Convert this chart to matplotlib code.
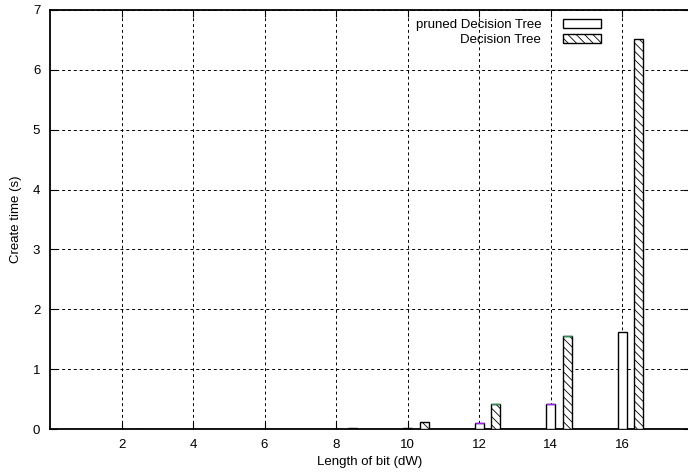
import numpy as np
import matplotlib
matplotlib.use("Agg")
import matplotlib.pyplot as plt

plt.rcParams['font.family'] = ['Liberation Sans', 'DejaVu Sans']
plt.rcParams['hatch.linewidth'] = 0.6

bits = np.array([2, 4, 6, 8, 10, 12, 14, 16])
pruned = [0.0, 0.0, 0.001, 0.005, 0.02, 0.1, 0.41, 1.62]
full = [0.0, 0.0, 0.002, 0.02, 0.11, 0.41, 1.56, 6.51]

fig = plt.figure(figsize=(6.88, 4.72), dpi=100)
ax = fig.add_axes([50 / 688, 43 / 472, 640 / 688, 419 / 472])

w = 0.25
ax.bar(bits, pruned, width=w, color='white', edgecolor='black', linewidth=1.0,
       label='pruned Decision Tree', zorder=3)
ax.bar(bits + 0.47, full, width=w, color='white', edgecolor='black', linewidth=1.0,
       hatch='\\\\\\\\', label='Decision Tree', zorder=3)
# thin coloured caps as in the original
ax.hlines(pruned[5:7], bits[5:7] - w / 2, bits[5:7] + w / 2, color='#a020f0', lw=1, zorder=4)
ax.hlines(full[5:7], bits[5:7] + 0.47 - w / 2, bits[5:7] + 0.47 + w / 2, color='#2e8b57', lw=1, zorder=4)

ax.set_xlim(0, 17.9)
ax.set_ylim(0, 7)
ax.set_xticks(bits)
ax.set_yticks(range(0, 8))
ax.grid(True, color='black', linestyle=(0, (3, 3)), linewidth=0.7, zorder=0)
ax.tick_params(direction='in', top=True, right=True, length=5, labelsize=9.5)
ax.tick_params(axis='x', pad=7)
ax.tick_params(axis='y', pad=7)
for s in ax.spines.values():
    s.set_linewidth(1.3)

ax.set_xlabel('Length of bit (dW)', fontsize=9.5, labelpad=4)
ax.set_ylabel('Create time (s)', fontsize=9.5, labelpad=8)

leg = ax.legend(loc='upper right', bbox_to_anchor=(0.876, 1.0), markerfirst=False,
                frameon=False, fontsize=9.5, handlelength=2.9, handleheight=0.7,
                handletextpad=1.65, labelspacing=0.2, borderaxespad=0.3)
for t in leg.get_texts():
    t.set_ha('right')

fig.savefig('out.png', dpi=100)
